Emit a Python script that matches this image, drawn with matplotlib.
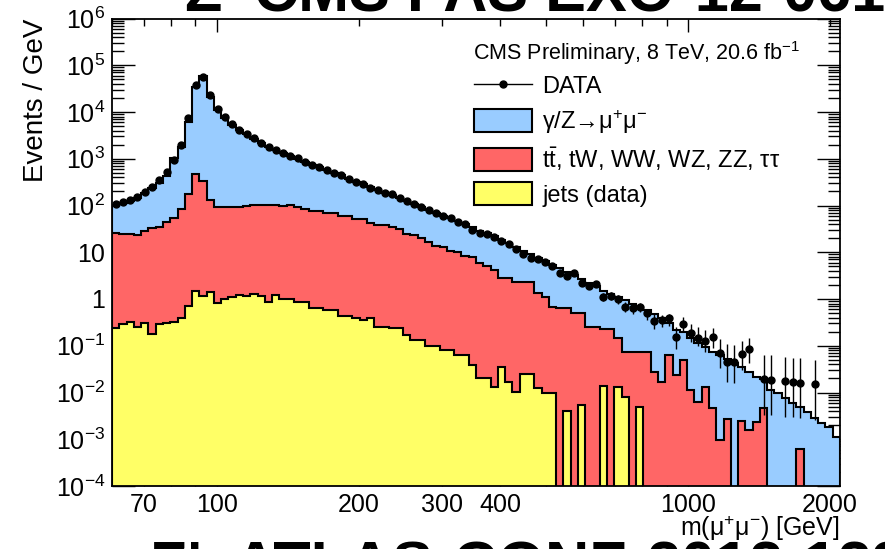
import numpy as np
import matplotlib
matplotlib.use("Agg")
import matplotlib.pyplot as plt
from matplotlib.lines import Line2D
from matplotlib.patches import Patch
from matplotlib.ticker import LogLocator, NullFormatter

plt.rcParams["font.family"] = ["Liberation Sans", "DejaVu Sans"]
plt.rcParams["mathtext.fontset"] = "custom"
plt.rcParams["mathtext.rm"] = "Liberation Sans"
plt.rcParams["mathtext.it"] = "Liberation Sans:italic"
plt.rcParams["mathtext.bf"] = "Liberation Sans:bold"

# 100 log-spaced mass bins, 60 - 2100 GeV
edges = np.geomspace(60, 2100, 101)

# events / GeV, read per bin
data = [108, 120, 131, 154, 198, 253, 351, 528, 940, 1970,
        7330, 37800, 57000, 23100, 11400, 7940, 5530, 4120, 3390, 2740,
        2210, 1810, 1540, 1350, 1146, 1021, 865, 734, 655, 574,
        500, 445, 372, 324, 284, 240, 215, 188, 176, 143,
        125, 108, 91, 80, 68, 60.5, 53, 45, 39.6, 29.9,
        25.8, 24.3, 21.5, 17.7, 14.8, 11.7, 9.2, 7.66, 7.06, 6.1,
        5.08, 3.66, 3.1, 3.66, 2.17, 1.93, 2.06, 1.12, 1.18, 1.0,
        0.684, 0.632, 0.665, 0.494, 0.344, 0.356, 0.386, 0.156, 0.292, 0.19,
        0.15, 0.128, 0.152, 0.069, 0.0456, 0.0442, 0.0656, 0.084, 0, 0.0195,
        0.0185, 0, 0.0176, 0.0165, 0.0162, 0, 0.0152, 0, 0, 0]

# top of the full stack (jets + ewk/top + DY)
dy_top = [104, 112, 122, 142, 182, 235, 308, 420, 1021, 1810,
          6210, 34800, 58900, 21300, 11000, 7330, 5400, 4100, 3350, 2700,
          2200, 1800, 1520, 1330, 1140, 1000, 860, 730, 650, 570,
          495, 440, 375, 325, 282, 245, 214, 188, 168, 145,
          126, 109, 93, 80, 70, 61, 53, 46, 40, 34,
          29, 25.5, 22, 18.5, 15.5, 12.8, 10.8, 9.0, 7.6, 6.4,
          5.4, 4.5, 3.8, 3.2, 2.7, 2.25, 1.9, 1.5, 1.3, 1.1,
          0.95, 0.8, 0.68, 0.57, 0.48, 0.40, 0.30, 0.22, 0.20, 0.15,
          0.116, 0.0955, 0.0747, 0.0634, 0.0516, 0.042, 0.0357, 0.0279, 0.0218, 0.0195,
          0.0113, 0.0096, 0.0075, 0.0059, 0.005, 0.0039, 0.0028, 0.00226, 0.00186, 0.0011]

# top of jets + (ttbar, tW, WW, WZ, ZZ, tautau)
ewk_top = [26, 24.5, 24.5, 23.4, 28.9, 32.4, 35.2, 45, 53, 83,
           173, 472, 340, 131, 94, 92, 92, 94, 98, 103,
           103, 104, 104, 100, 104, 92, 86, 77, 77, 68,
           68, 61, 61, 51.5, 51.5, 42.5, 38, 38, 35, 31,
           24, 23, 19.8, 16.7, 13.5, 12.8, 10.6, 10.2, 8.4, 8.0,
           6.0, 5.1, 4.1, 2.8, 2.8, 2.35, 2.35, 2.35, 1.32, 1.12,
           0.68, 0.65, 0.65, 0.49, 0.49, 0.256, 0.256, 0.225, 0.225, 0.145,
           0.0747, 0.0747, 0.0747, 0.0747, 0.0279, 0.017, 0.063, 0.0237, 0.0496, 0.0113,
           0.00635, 0.0133, 0.00457, 0.00096, 0.00267, 0, 0.0025, 0.00158, 0.00237, 0.00457,
           0, 0, 0, 0, 0.00061, 0, 0, 0, 0, 0]

# jets (from data)
jets = [0.236, 0.29, 0.327, 0.256, 0.30, 0.178, 0.29, 0.30, 0.327, 0.386,
        0.708, 1.51, 1.18, 1.44, 0.83, 0.99, 1.12, 1.22, 1.18, 1.26,
        1.18, 0.88, 1.22, 1.0, 1.0, 0.88, 0.88, 0.63, 0.63, 0.58,
        0.58, 0.43, 0.43, 0.386, 0.356, 0.386, 0.256, 0.256, 0.236, 0.236,
        0.17, 0.133, 0.133, 0.100, 0.100, 0.081, 0.081, 0.063, 0.063, 0.0387,
        0.0201, 0.0201, 0.0133, 0.0357, 0.017, 0.0104, 0.0245, 0.0245, 0.0123, 0.0096,
        0.0096, 0, 0.0041, 0, 0.0054, 0, 0, 0.014, 0, 0.0129,
        0.0081, 0, 0.005, 0, 0, 0, 0, 0, 0, 0,
        0, 0, 0, 0, 0, 0, 0, 0, 0, 0,
        0, 0, 0, 0, 0, 0, 0, 0, 0, 0]

# 68% Poisson intervals for small counts
garwood_lo = [0, 0.173, 0.708, 1.367, 2.086, 2.840, 3.620, 4.419, 5.232, 6.057, 6.891]
garwood_hi = [1.841, 3.300, 4.638, 5.918, 7.163, 8.382, 9.584, 10.77, 11.95, 13.11, 14.27]

c_dy = "#99ccff"
c_ewk = "#ff6666"
c_jets = "#ffff66"
floor = 1e-6

fig = plt.figure(figsize=(8.85, 5.49), dpi=100)
ax = fig.add_axes([112 / 885, 63 / 549, 728 / 885, 467.5 / 549])
ax.set_xscale("log")
ax.set_yscale("log")

for vals, col in [(dy_top, c_dy), (ewk_top, c_ewk), (jets, c_jets)]:
    v = np.where(np.array(vals) > 0, vals, floor)
    ax.stairs(v, edges, baseline=floor, fill=True, facecolor=col,
              edgecolor="black", linewidth=1.5, zorder=2)

# data points with poisson errors
d = np.array(data, dtype=float)
widths = np.diff(edges)
centers = np.sqrt(edges[:-1] * edges[1:])
counts = np.round(d * widths).astype(int)
lo = np.zeros_like(d)
hi = np.zeros_like(d)
for i, n in enumerate(counts):
    if n <= 10:
        lo[i] = garwood_lo[n]
        hi[i] = garwood_hi[n]
    else:
        lo[i] = n - np.sqrt(n)
        hi[i] = n + np.sqrt(n)
m = d > 0
yerr = [d[m] - lo[m] / widths[m], hi[m] / widths[m] - d[m]]
ax.errorbar(centers[m], d[m], yerr=yerr, fmt="o", color="black", ms=5,
            elinewidth=1.0, capsize=0, zorder=4)

ax.set_xlim(60, 2100)
ax.set_ylim(1e-4, 1e6)

# x ticks: long at 100 / 1000, short elsewhere, ROOT-style label set
ax.set_xticks([100, 1000], labels=["100", "1000"])
minor_x = [60, 70, 80, 90, 200, 300, 400, 500, 600, 700, 800, 900, 2000]
minor_lab = {70: "70", 200: "200", 300: "300", 400: "400", 2000: "2000"}
ax.set_xticks(minor_x, labels=[minor_lab.get(t, "") for t in minor_x], minor=True)

ax.yaxis.set_minor_locator(LogLocator(base=10, subs=np.arange(2, 10), numticks=200))
ax.yaxis.set_minor_formatter(NullFormatter())
ylabels = {-4: "$\\mathregular{10^{-4}}$", -3: "$\\mathregular{10^{-3}}$",
           -2: "$\\mathregular{10^{-2}}$", -1: "$\\mathregular{10^{-1}}$",
           0: "1", 1: "10", 2: "$\\mathregular{10^{2}}$", 3: "$\\mathregular{10^{3}}$",
           4: "$\\mathregular{10^{4}}$", 5: "$\\mathregular{10^{5}}$", 6: "$\\mathregular{10^{6}}$"}
yt = [10.0 ** p for p in range(-4, 7)]
ax.set_yticks(yt, labels=[ylabels[p] for p in range(-4, 7)])

ax.tick_params(which="both", direction="in", top=True, right=True, labelsize=18, width=1.0)
ax.tick_params(axis="x", which="major", length=9.5, pad=5)
ax.tick_params(axis="x", which="minor", length=5, pad=5, labelsize=18)
ax.tick_params(axis="y", which="major", length=16.5, pad=5)
ax.tick_params(axis="y", which="minor", length=8.5)
for s in ax.spines.values():
    s.set_linewidth(1.3)
    s.set_zorder(5)

ax.set_xlabel("m($\\mathregular{\\mu^{+}\\mu^{-}}$) [GeV]", fontsize=18, loc="right", labelpad=-2)
ax.set_ylabel("Events / GeV", fontsize=20, loc="top", labelpad=5)

ax.text(473 / 885, 1 - 60 / 549, "CMS Preliminary, 8 TeV, 20.6 fb$^{-1}$",
        transform=fig.transFigure, fontsize=15.5, ha="left", va="baseline", zorder=6)

handles = [
    Line2D([], [], color="black", marker="o", ms=5, lw=1.0),
    Patch(facecolor=c_dy, edgecolor="black", linewidth=1.5),
    Patch(facecolor=c_ewk, edgecolor="black", linewidth=1.5),
    Patch(facecolor=c_jets, edgecolor="black", linewidth=1.5),
]
labels = ["DATA",
          "$\\mathregular{\\gamma/Z}$→$\\mathregular{\\mu^{+}\\mu^{-}}$",
          "$\\mathregular{t\\bar{t}}$, tW, WW, WZ, ZZ, $\\mathregular{\\tau\\tau}$",
          "jets (data)"]
leg = ax.legend(handles, labels, loc="upper left", bbox_to_anchor=(0.497, 0.881),
                frameon=False, fontsize=17, handlelength=2.45, handleheight=1.1,
                labelspacing=0.4, handletextpad=0.45, borderpad=0, borderaxespad=0)
leg.set_zorder(6)

# slide headings cut by the edge of the page
fig.text(185 / 885, 1 - 12 / 549, "Z' CMS PAS EXO-12-061", fontsize=44,
         fontweight="bold", va="baseline", ha="left")
fig.text(150 / 885, 1 - 585 / 549, "Z', ATLAS-CONF-2012-129", fontsize=44,
         fontweight="bold", va="baseline", ha="left")

fig.savefig("out.png", dpi=100)
